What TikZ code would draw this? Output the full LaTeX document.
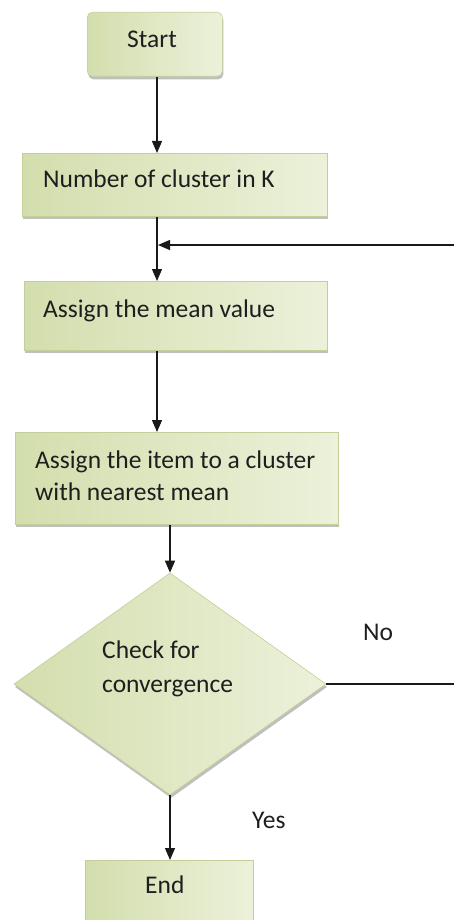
\documentclass[tikz,border=0pt]{standalone}
\usepackage{fontspec}
\setmainfont{Carlito}
\usetikzlibrary{arrows.meta,shapes.geometric,shadows}
\definecolor{gdark}{HTML}{D3DEAD}
\definecolor{glight}{HTML}{ECF1DA}
\definecolor{gedge}{HTML}{C3CF98}
\definecolor{ink}{HTML}{1E1E1E}
\begin{document}
\begin{tikzpicture}[x=1pt,y=-1pt,
  box/.style={draw=gedge,line width=0.6pt,left color=gdark,right color=glight,
    inner sep=0pt,anchor=north west,
    drop shadow={shadow xshift=1pt,shadow yshift=-3pt,opacity=0.25,fill=black}},
  txt/.style={anchor=base west,inner sep=0pt,text=ink,font=\fontsize{25.5}{30}\selectfont},
  arr/.style={-{Triangle[width=10pt,length=12pt]},line width=1.3pt,draw=black!90},
  lin/.style={line width=1.3pt,draw=black!90}]
\useasboundingbox (0,0) rectangle (453,920);
\fill[white] (0,0) rectangle (453,920);
% boxes
\node[box,rounded corners=5pt,minimum width=135pt,minimum height=64pt] (start) at (87,12) {};
\node[box,minimum width=305pt,minimum height=63pt] (nk) at (22,153) {};
\node[box,minimum width=303pt,minimum height=69pt] (mean) at (24,281) {};
\node[box,minimum width=323pt,minimum height=92pt] (item) at (15,432) {};
\node[diamond,draw=gedge,line width=0.6pt,left color=gdark,right color=glight,
  inner sep=0pt,minimum width=312pt,minimum height=222pt,
  drop shadow={shadow xshift=1pt,shadow yshift=-3pt,opacity=0.25,fill=black}] (dia) at (170,684) {};
\node[box,minimum width=168pt,minimum height=60pt] (end) at (85,860) {};
% texts
\node[txt] (tstart) at (127,48) {Start};
\node[txt] (tnk) at (43,187) {Number of cluster in K};
\node[txt] (tmean) at (43,317) {Assign the mean value};
\node[txt] (titem1) at (35,468) {Assign the item to a cluster};
\node[txt] (titem2) at (35,500) {with nearest mean};
\node[txt] (tdia1) at (102,658) {Check for};
\node[txt] (tdia2) at (102,692) {convergence};
\node[txt] (tno) at (363,640) {No};
\node[txt] (tyes) at (252,828) {Yes};
\node[txt] (tend) at (145,893) {End};
% connectors
\coordinate (xa) at (157,0);
\coordinate (xb) at (170,0);
\coordinate (j) at (157,245);
\coordinate (jr) at (158,245);
\draw[arr] (start.south -| xa) -- (nk.north -| xa);
\draw[lin] (nk.south -| xa) -- (j);
\draw[arr] (j) -- (mean.north -| xa);
\draw[arr] (mean.south -| xa) -- (item.north -| xa);
\draw[arr] (item.south -| xb) -- (dia.north);
\draw[arr] (dia.south) -- (end.north -| xb);
\draw[arr] (dia.east) -- ++(140,0) |- (jr);
\end{tikzpicture}
\end{document}
